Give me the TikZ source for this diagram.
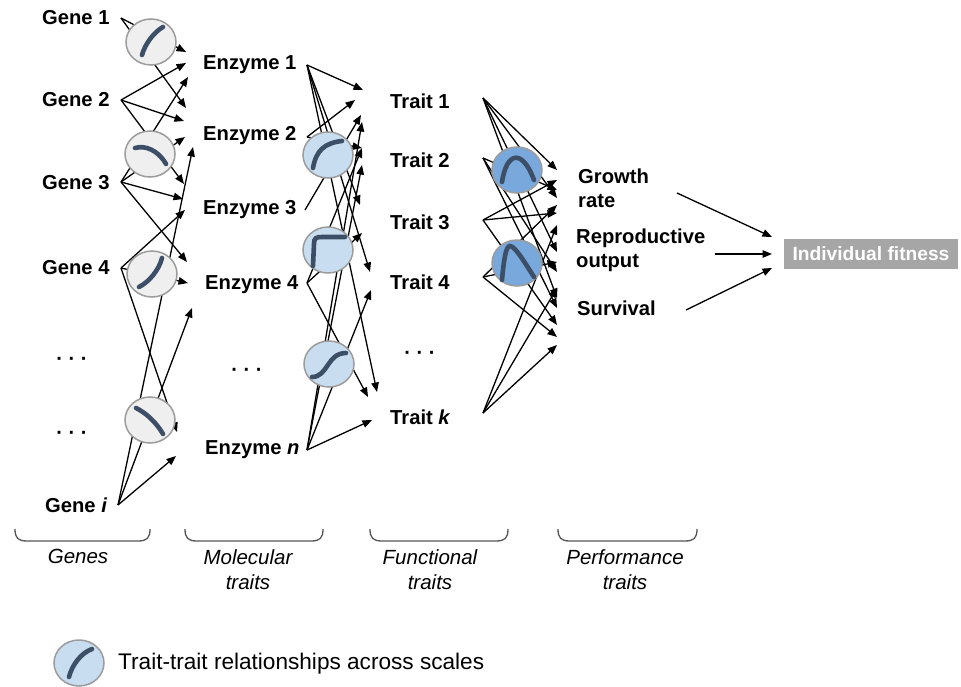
\documentclass[tikz,border=0pt]{standalone}
\usepackage{fontspec}
\setmainfont{Liberation Sans}
\usetikzlibrary{arrows.meta,shapes.geometric}
\definecolor{glyphc}{HTML}{3D4F66}
\definecolor{ringc}{HTML}{9C9C9C}
\definecolor{cgray}{HTML}{EFEFEF}
\definecolor{cblue}{HTML}{C8DDF0}
\definecolor{cdblue}{HTML}{78A8DC}
\definecolor{fitc}{HTML}{A6A6A6}
\definecolor{bracec}{HTML}{555555}
\begin{document}
\begin{tikzpicture}[x=1pt,y=-1pt,
  lab/.style={font=\fontsize{20.2}{24}\selectfont\bfseries, anchor=west, inner sep=0pt, align=left},
  cat/.style={font=\fontsize{20.5}{25}\selectfont\itshape, align=center, inner sep=0pt, anchor=north},
  dots/.style={font=\fontsize{20}{24}\selectfont\bfseries, inner sep=0pt},
  conn/.style={line width=1.3pt, -{Triangle[length=9.5pt,width=7.5pt]}},
  rel/.style={ellipse, draw=ringc, line width=1.5pt, minimum width=50pt, minimum height=46pt, inner sep=0pt},
  relg/.style={rel, fill=cgray},
  relb/.style={rel, fill=cblue},
  reld/.style={rel, fill=cdblue},
  curve/.style={draw=glyphc, line width=4.6pt, line cap=round},
  bracepath/.style={draw=bracec, line width=1.3pt}]
\useasboundingbox (0,0) rectangle (961,687);

% ---------- source coordinates ----------
\coordinate (G1o) at (121,18);
\coordinate (G2o) at (121,100);
\coordinate (G3o) at (121,182);
\coordinate (G4o) at (121,268);
\coordinate (Gio) at (118,505);
\coordinate (E1o) at (307,65);
\coordinate (E2o) at (307,137);
\coordinate (E3o) at (305,210);
\coordinate (E4o) at (307,283);
\coordinate (Eno) at (307,450);
\coordinate (T1o) at (483,98);
\coordinate (T2o) at (483,158);
\coordinate (T3o) at (483,220);
\coordinate (T4o) at (483,277);
\coordinate (Tko) at (483,413);
\coordinate (P1o) at (677,193);
\coordinate (P2o) at (715,254);
\coordinate (P3o) at (686,310);

% ---------- arrow tips, gene -> enzyme ----------
\coordinate (ga) at (186,52);
\coordinate (gb) at (186,63);
\coordinate (gc) at (188,77);
\coordinate (gd) at (186,108);
\coordinate (ge) at (184,121);
\coordinate (gf) at (185,137);
\coordinate (gg) at (193,147);
\coordinate (gh) at (184,184);
\coordinate (gi) at (183,199);
\coordinate (gj) at (185,210);
\coordinate (gk) at (187,262);
\coordinate (gl) at (188,283);
\coordinate (gm) at (192,308);
\coordinate (gn) at (177,432);
\coordinate (go) at (176,456);
% enzyme -> trait
\coordinate (ea) at (363,90);
\coordinate (eb) at (355,100);
\coordinate (ec) at (361,115);
\coordinate (ed) at (362,122);
\coordinate (ee) at (362,148);
\coordinate (ef) at (362,165);
\coordinate (eg) at (360,205);
\coordinate (eh) at (362,233);
\coordinate (ei) at (370,272);
\coordinate (ej) at (371,290);
\coordinate (ek) at (368,397);
\coordinate (el) at (377,392);
\coordinate (em) at (372,420);
% trait -> performance
\coordinate (pa) at (557,170);
\coordinate (pb) at (557,180);
\coordinate (pc) at (557,190);
\coordinate (pd) at (557,198);
\coordinate (pe) at (557,205);
\coordinate (pf) at (557,213);
\coordinate (pg) at (557,225);
\coordinate (ph) at (557,237);
\coordinate (pi) at (557,252);
\coordinate (pj) at (557,262);
\coordinate (pk) at (557,272);
\coordinate (pp) at (557,288);
\coordinate (pl) at (557,298);
\coordinate (pm) at (557,308);
\coordinate (pn) at (557,325);
\coordinate (po) at (557,337);
\coordinate (pq) at (557,345);

% ---------- connectors ----------
\foreach \s/\t in {G1o/ga,G1o/gd,G2o/gb,G2o/ge,G2o/gh,G3o/gc,G3o/gf,G3o/gi,G3o/gk,
                   G4o/gj,G4o/gl,G4o/gn,Gio/gg,Gio/gm,Gio/go,
                   E1o/ea,E1o/eg,E1o/ei,E1o/el,E2o/eb,E2o/ee,E3o/ec,E4o/eh,E4o/ee,E4o/ek,
                   Eno/ed,Eno/ef,Eno/ej,Eno/em,
                   T1o/pa,T1o/pd,T1o/pi,T1o/pl,T2o/pc,T2o/pk,T2o/pm,T3o/pb,T3o/pf,T3o/pn,
                   T4o/pe,T4o/pj,T4o/po,Tko/pg,Tko/pp,Tko/pq}
  \draw[conn] (\s) -- (\t);

% ---------- relationship circles ----------
\node[relg] (c1) at (151,42) {};
\node[relg] (c2) at (150,154) {};
\node[relg] (c3) at (152,274) {};
\node[relg] (c4) at (150,420) {};
\node[relb] (b1) at (328,155) {};
\node[relb] (b2) at (328,250) {};
\node[relb] (b3) at (329,364) {};
\node[reld] (d1) at (517,170) {};
\node[reld] (d2) at (517,263) {};

\begin{scope}[shift={(c1.center)}]
  \draw[curve] (-9,13) .. controls (-6,2) and (3,-10) .. (12,-15);
\end{scope}
\begin{scope}[shift={(c2.center)}]
  \draw[curve] (-15,-6) .. controls (-5,-9) and (8,-4) .. (16,10);
\end{scope}
\begin{scope}[shift={(c3.center)}]
  \draw[curve] (-13,13) .. controls (-3,8) and (7,-4) .. (10,-16);
\end{scope}
\begin{scope}[shift={(c4.center)}]
  \draw[curve] (-14,-12) .. controls (-4,-7) and (6,2) .. (13,14);
\end{scope}
\begin{scope}[shift={(b1.center)}]
  \draw[curve] (-15,13) .. controls (-12,-4) and (-4,-12) .. (14,-14);
\end{scope}
\begin{scope}[shift={(b2.center)}]
  \draw[curve] (-15,16) -- (-14,-6) .. controls (-14,-12) and (-12,-13) .. (-6,-13) -- (17,-13);
\end{scope}
\begin{scope}[shift={(b3.center)}]
  \draw[curve] (-17,13) .. controls (-1,13) and (-2,-11) .. (17,-11);
\end{scope}
\begin{scope}[shift={(d1.center)}]
  \draw[curve] (-15,12) .. controls (-10,-20) and (6,-20) .. (17,10);
\end{scope}
\begin{scope}[shift={(d2.center)}]
  \draw[curve] (-15,17) .. controls (-13,-5) and (-11,-17) .. (-7,-17) .. controls (-2,-17) and (8,0) .. (17,14);
\end{scope}

% ---------- labels ----------
\node[lab] (g1) at (42,18) {Gene 1};
\node[lab] (g2) at (42,100) {Gene 2};
\node[lab] (g3) at (42,183) {Gene 3};
\node[lab] (g4) at (42,268) {Gene 4};
\node[dots] (gdots1) at (72,361) {· · ·};
\node[dots] (gdots2) at (72,435) {· · ·};
\node[lab] (gi) at (45,505) {Gene \textit{i}};

\node[lab] (e1) at (203,65) {Enzyme 1};
\node[lab] (e2) at (203,136) {Enzyme 2};
\node[lab] (e3) at (203,210) {Enzyme 3};
\node[lab] (e4) at (205,285) {Enzyme 4};
\node[dots] (edots) at (247,372) {· · ·};
\node[lab] (en) at (205,450) {Enzyme \textit{n}};

\node[lab] (t1) at (390,101) {Trait 1};
\node[lab] (t2) at (390,160) {Trait 2};
\node[lab] (t3) at (390,222) {Trait 3};
\node[lab] (t4) at (390,282) {Trait 4};
\node[dots] (tdots) at (420,355) {· · ·};
\node[lab] (tk) at (390,417) {Trait \textit{k}};

\node[lab] (pgrow) at (578,188) {Growth\\rate};
\node[lab] (prep) at (576,250) {Reproductive\\output};
\node[lab] (psurv) at (577,308) {Survival};

\node[fill=fitc, text=white, font=\fontsize{19.2}{22}\selectfont\bfseries,
      minimum width=174pt, minimum height=30pt, inner sep=0pt] (fit) at (871,254) {Individual fitness};
\coordinate (fa) at (772,237);
\coordinate (fb) at (772,254);
\coordinate (fc) at (772,268);
\draw[conn] (P1o) -- (fa);
\draw[conn] (P2o) -- (fb);
\draw[conn] (P3o) -- (fc);

% ---------- braces and category labels ----------
\foreach \a/\b in {15/150,185/323,370/508,558/697}
  \draw[bracepath] (\a,529) .. controls (\a,538) and (\a+3,541) .. (\a+12,541) -- (\b-12,541) .. controls (\b-3,541) and (\b,538) .. (\b,529);

\node[cat] (cgenes) at (78,549) {Genes};
\node[cat] (cmol) at (248,549) {Molecular\\traits};
\node[cat] (cfun) at (430,549) {Functional\\traits};
\node[cat] (cperf) at (625,549) {Performance\\traits};

% ---------- legend ----------
\node[relb] (leg) at (79,663) {};
\begin{scope}[shift={(leg.center)}]
  \draw[curve] (-10,14) .. controls (-7,2) and (2,-10) .. (13,-14);
\end{scope}
\node[anchor=west, inner sep=0pt, font=\fontsize{22.6}{26}\selectfont] (legtxt) at (118,664) {Trait-trait relationships across scales};
\end{tikzpicture}
\end{document}
